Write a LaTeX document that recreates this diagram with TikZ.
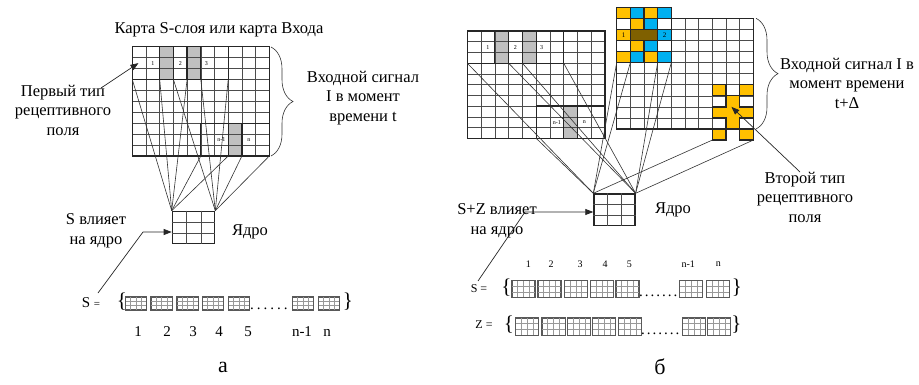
\documentclass[tikz,border=0pt]{standalone}
\usepackage{fontspec}
\setmainfont{Liberation Serif}
\usetikzlibrary{arrows.meta,decorations.pathreplacing,calc}
\definecolor{yel}{RGB}{255,192,0}
\definecolor{blu}{RGB}{0,176,240}
\definecolor{brn}{RGB}{127,96,0}
\definecolor{cellgray}{RGB}{192,192,192}
\tikzset{
  thinl/.style={line width=0.5pt, draw=black!70},
  thickl/.style={line width=1.3pt, draw=black!85},
  fan/.style={line width=0.6pt, draw=black!80},
  lbl/.style={font=\fontsize{16.5}{19.5}\selectfont, align=center, inner sep=0pt},
  numl/.style={font=\fontsize{15}{15}\selectfont, inner sep=0pt},
  nums/.style={font=\fontsize{10}{10}\selectfont, inner sep=0pt},
  tinyn/.style={font=\fontsize{6}{6}\selectfont, inner sep=0pt},
  arr/.style={line width=0.7pt, draw=black!85, -{Triangle[length=8pt,width=6pt]}},
  seqb/.style={draw=black!65, line width=0.9pt, inner sep=0pt, fill=white},
  seqin/.style={line width=0.4pt, draw=black!40},
  kern/.style={draw=black!85, line width=1.3pt, inner sep=0pt},
  bigbrace/.style={decorate, decoration={brace, amplitude=22pt}, line width=0.6pt, draw=black!80},
  brc/.style={font=\fontsize{21}{21}\selectfont, inner sep=0pt},
  panel/.style={font=\fontsize{22}{22}\selectfont, inner sep=0pt}
}
\newcommand{\mapgrid}[1]{%
  \fill[cellgray] (2,0) rectangle (3,3) (4,0) rectangle (5,3) (7,7) rectangle (8,10);
  \foreach \i in {0,...,10} {\draw[thinl] (\i,0) -- (\i,10); \draw[thinl] (0,\i) -- (10,\i);}
  \draw[thickl] (0,0) rectangle (10,10) (0,0) rectangle (7,3) (2,0) rectangle (3,3)
     (4,0) rectangle (5,3) (5,7) rectangle (10,10) (7,7) rectangle (8,10);
  \node[tinyn] (#1t1) at (1.5,1.5) {1};
  \node[tinyn] (#1t2) at (3.5,1.5) {2};
  \node[tinyn] (#1t3) at (5.4,1.5) {3};
  \node[tinyn] (#1tn1) at (6.5,8.5) {n-1};
  \node[tinyn] (#1tn) at (8.5,8.5) {n};
  \coordinate (#1c03) at (0,3);
  \coordinate (#1c23) at (2,3);
  \coordinate (#1c33) at (3,3);
  \coordinate (#1c43) at (4,3);
  \coordinate (#1c53) at (5,3);
  \coordinate (#1c73) at (7,3);
  \coordinate (#1c510) at (5,10);
  \coordinate (#1c710) at (7,10);
  \coordinate (#1c810) at (8,10);
  \coordinate (#1c1010) at (10,10);
}
\newcommand{\kerngrid}[1]{%
  \foreach \kk in {1,2} {
    \draw[thinl] ($(#1.north west)!\kk/3!(#1.north east)$) -- ($(#1.south west)!\kk/3!(#1.south east)$);
    \draw[thinl] ($(#1.north west)!\kk/3!(#1.south west)$) -- ($(#1.north east)!\kk/3!(#1.south east)$);
  }
  \node[kern, minimum width=\pgfkeysvalueof{/tikz/kw}, minimum height=\pgfkeysvalueof{/tikz/kh}] at (#1.center) {};
}
\newcommand{\seqbox}[5]{%
  \node[seqb, minimum width=#4pt, minimum height=#5pt, anchor=north west] (#1) at (#2,#3) {};
  \foreach \kk in {1,2,3}
    \draw[seqin] ($(#1.north west)!\kk/4!(#1.north east)$) -- ($(#1.south west)!\kk/4!(#1.south east)$);
  \foreach \kk in {1,2}
    \draw[seqin] ($(#1.north west)!\kk/3!(#1.south west)$) -- ($(#1.north east)!\kk/3!(#1.south east)$);
  \draw[draw=black!65, line width=0.9pt] (#1.north west) rectangle (#1.south east);
}
\newcommand{\dotsix}{.\kern3pt.\kern3pt.\kern3pt.\kern3pt.\kern3pt.}
\newcommand{\dotseven}{.\kern2pt.\kern2pt.\kern2pt.\kern2pt.\kern2pt.\kern2pt.}
\begin{document}
\begin{tikzpicture}[x=1pt, y=-1pt]
\useasboundingbox (0,0) rectangle (919,385);
\fill[white] (0,0) rectangle (919,385);

% ================= PANEL a =================
\node[lbl] (aTitle) at (219,30) {Карта S-слоя или карта Входа};
\begin{scope}[shift={(132.3pt,-46.7pt)}, x=13.7pt, y=-10.93pt]
  \mapgrid{a}
  \coordinate (aPtip) at (0.45,1.5);
\end{scope}
\draw[bigbrace] (271,47) -- (271,156);
\node[lbl] (aIn) at (363,98) {Входной сигнал\\I в момент\\времени t};
\node[lbl] (aFirst) at (63,110) {Первый тип\\рецептивного\\поля};
\coordinate (aPs) at (101,88);
\draw[arr] (aPs) -- (aPtip);

\node[kern, minimum width=42.3pt, minimum height=32pt, anchor=north west] (kerA) at (171.7,210.7) {};
\foreach \kk in {1,2} {
  \draw[thinl] ($(kerA.north west)!\kk/3!(kerA.north east)$) -- ($(kerA.south west)!\kk/3!(kerA.south east)$);
  \draw[thinl] ($(kerA.north west)!\kk/3!(kerA.south west)$) -- ($(kerA.north east)!\kk/3!(kerA.south east)$);
}
\foreach \p in {c03,c23,c43,c510,c710} \draw[fan] (a\p) -- (kerA.north west);
\foreach \p in {c33,c53,c73,c810,c1010} \draw[fan] (a\p) -- (kerA.north east);
\node[lbl] (aCore) at (250,232) {Ядро};
\node[lbl] (aInfl) at (96,231) {S влияет\\на ядро};

\node[inner sep=0pt] (aSeq) at (91,303) {\fontsize{15}{15}\selectfont S \fontsize{11}{11}\selectfont =};
\coordinate (aA1) at (98,293);
\coordinate (aA2) at (143,232);
\coordinate (aA3) at (171.7,232);
\draw[arr] (aA1) -- (aA2) -- (aA3);

\node[brc] (aLb) at (122,302) {\{};
\seqbox{aq1}{125}{296.7}{21}{12.5}
\seqbox{aq2}{150.7}{296.7}{21}{12.5}
\seqbox{aq3}{176.7}{296.7}{21}{12.5}
\seqbox{aq4}{202}{296.7}{21}{12.5}
\seqbox{aq5}{228}{296.7}{21}{12.5}
\node[numl, anchor=base west] (aDots) at (250,309) {\dotsix};
\seqbox{aq6}{292}{296.7}{21}{12.5}
\seqbox{aq7}{318}{296.7}{21}{12.5}
\node[brc] (aRb) at (348,302) {\}};
\node[numl] (an1) at (138,332) {1};
\node[numl] (an2) at (167,332) {2};
\node[numl] (an3) at (193,332) {3};
\node[numl] (an4) at (219,332) {4};
\node[numl] (an5) at (248,332) {5};
\node[numl] (an6) at (302,332) {n-1};
\node[numl] (an7) at (327,333) {n};
\node[panel] (aLabel) at (223,367) {а};

% ================= PANEL b =================
\begin{scope}[shift={(467.3pt,-31pt)}, x=13.77pt, y=-10.73pt]
  \mapgrid{bl}
\end{scope}
\begin{scope}[shift={(616.7pt,-18.3pt)}, x=13.66pt, y=-11.07pt]
  \foreach \i in {0,...,10} {\draw[thinl] (\i,0) -- (\i,10); \draw[thinl] (0,\i) -- (10,\i);}
  % top pattern
  \fill[white] (0,-1) rectangle (4,4);
  \fill[yel] (0,-1) rectangle (1,0) (2,-1) rectangle (3,0) (1,0) rectangle (2,1) (0,1) rectangle (1,2)
     (1,2) rectangle (2,3) (0,3) rectangle (1,4) (2,3) rectangle (3,4);
  \fill[blu] (1,-1) rectangle (2,0) (3,-1) rectangle (4,0) (2,0) rectangle (3,1) (3,1) rectangle (4,2)
     (2,2) rectangle (3,3) (1,3) rectangle (2,4) (3,3) rectangle (4,4);
  \fill[brn] (1,1) rectangle (3,2);
  \draw[thinl] (0,0) rectangle (1,1) (3,0) rectangle (4,1) (0,2) rectangle (1,3) (3,2) rectangle (4,3);
  \draw[thickl] (0,-1) rectangle (1,0) (1,-1) rectangle (2,0) (2,-1) rectangle (3,0) (3,-1) rectangle (4,0)
     (1,0) rectangle (2,1) (2,0) rectangle (3,1) (0,1) rectangle (1,2) (1,1) rectangle (3,2) (3,1) rectangle (4,2)
     (1,2) rectangle (2,3) (2,2) rectangle (3,3)
     (0,3) rectangle (1,4) (1,3) rectangle (2,4) (2,3) rectangle (3,4) (3,3) rectangle (4,4);
  \draw[thickl] (0,-1) rectangle (4,4);
  \draw[thickl] (0,0) rectangle (10,10);
  \node[tinyn, font=\fontsize{7}{7}\selectfont] (brp1) at (0.5,1.5) {1};
  \node[tinyn, font=\fontsize{7}{7}\selectfont] (brp2) at (3.5,1.5) {2};
  % second receptive field
  \fill[yel] (7,6) rectangle (8,7) (9,6) rectangle (10,7) (8,7) rectangle (9,10) (7,8) rectangle (10,9)
     (7,10) rectangle (8,11) (9,10) rectangle (10,11);
  \draw[thickl] (7,6) rectangle (8,7) (9,6) rectangle (10,7) (7,10) rectangle (8,11) (9,10) rectangle (10,11)
     (8,7) -- (9,7) -- (9,8) -- (10,8) -- (10,9) -- (9,9) -- (9,10) -- (8,10) -- (8,9) -- (7,9) -- (7,8) -- (8,8) -- cycle;
  \coordinate (br04) at (0,4);
  \coordinate (br14) at (1,4);
  \coordinate (br34) at (3,4);
  \coordinate (br44) at (4,4);
  \coordinate (br711) at (7,11);
  \coordinate (br1011) at (10,11);
  \coordinate (brTip) at (8.4,8.0);
\end{scope}
\draw[bigbrace] (756,18.3) -- (756,129);
\node[lbl] (bIn) at (847,83) {Входной сигнал I в\\момент времени\\t+Δ};
\node[lbl] (bSecond) at (805,197) {Второй тип\\рецептивного\\поля};
\coordinate (bPs) at (800,172);
\draw[arr] (bPs) -- (brTip);

\node[kern, minimum width=41pt, minimum height=31.7pt, anchor=north west] (kerB) at (593.3,193.3) {};
\foreach \kk in {1,2} {
  \draw[thinl] ($(kerB.north west)!\kk/3!(kerB.north east)$) -- ($(kerB.south west)!\kk/3!(kerB.south east)$);
  \draw[thinl] ($(kerB.north west)!\kk/3!(kerB.south west)$) -- ($(kerB.north east)!\kk/3!(kerB.south east)$);
}
\foreach \p in {blc03,blc510,br04,br14,br711} \draw[fan] (\p) -- (kerB.north west);
\foreach \p in {blc33,blc43,blc73,br34,br44,br1011} \draw[fan] (\p) -- (kerB.north east);
\node[lbl] (bCore) at (673,210) {Ядро};
\node[lbl] (bInfl) at (497,221) {S+Z влияет\\на ядро};
\coordinate (bA1) at (478,281);
\coordinate (bA2) at (525,212);
\coordinate (bA3) at (593.3,212);
\draw[arr] (bA1) -- (bA2) -- (bA3);

\node[nums] (bn1) at (528.3,264) {1};
\node[nums] (bn2) at (551,264) {2};
\node[nums] (bn3) at (580,264) {3};
\node[nums] (bn4) at (605,264) {4};
\node[nums] (bn5) at (629.3,264) {5};
\node[nums] (bn6) at (688.3,264) {n-1};
\node[nums] (bn7) at (718.3,264.5) {n};

\node[inner sep=0pt, font=\fontsize{12}{12}\selectfont] (bS) at (479,289) {S =};
\node[brc] (bSl) at (506.5,288) {\{};
\seqbox{bs1}{511.7}{280}{22.5}{16.7}
\seqbox{bs2}{537.7}{280}{22.5}{16.7}
\seqbox{bs3}{564}{280}{22.5}{16.7}
\seqbox{bs4}{590}{280}{22.5}{16.7}
\seqbox{bs5}{615.7}{280}{22.5}{16.7}
\node[numl, anchor=base west] (bSd) at (639,296.5) {\dotseven};
\seqbox{bs6}{679.3}{280}{22.5}{16.7}
\seqbox{bs7}{706}{280}{22.5}{16.7}
\node[brc] (bSr) at (737,288) {\}};

\node[inner sep=0pt, font=\fontsize{12}{12}\selectfont] (bZ) at (484,325) {Z =};
\node[brc] (bZl) at (509,325) {\{};
\seqbox{bz1}{515}{317.5}{23}{17}
\seqbox{bz2}{541.5}{317.5}{23}{17}
\seqbox{bz3}{567}{317.5}{23}{17}
\seqbox{bz4}{592}{317.5}{23}{17}
\seqbox{bz5}{618}{317.5}{23}{17}
\node[numl, anchor=base west] (bZd) at (641,334.5) {\dotseven};
\seqbox{bz6}{682}{317.5}{23}{17}
\seqbox{bz7}{707}{317.5}{23}{17}
\node[brc] (bZr) at (736.5,325) {\}};

\node[panel] (bLabel) at (660,367) {б};
\end{tikzpicture}
\end{document}
